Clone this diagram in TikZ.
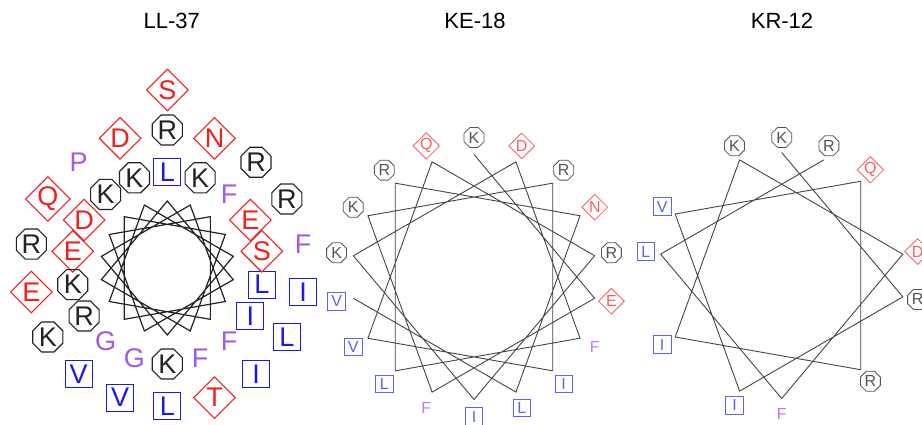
\documentclass[tikz,border=0pt]{standalone}
\usepackage{fontspec}
\setmainfont{Liberation Sans}
\usetikzlibrary{shapes.geometric}
\definecolor{bred}{RGB}{245,30,30}
\definecolor{bblue}{RGB}{25,25,235}
\definecolor{bblack}{RGB}{35,35,35}
\definecolor{bpurple}{RGB}{160,90,230}
\definecolor{sred}{RGB}{250,95,95}
\definecolor{sblue}{RGB}{95,95,250}
\definecolor{sblack}{RGB}{85,85,85}
\definecolor{spurple}{RGB}{185,125,240}
\definecolor{sline}{RGB}{70,70,70}
\tikzset{
  bigpos/.style={regular polygon, regular polygon sides=8, draw=bblack, text=bblack, line width=1.1pt, minimum size=32.5pt, inner sep=0pt, font=\fontsize{27}{27}\selectfont},
  bigneg/.style={diamond, draw=bred, text=bred, line width=1.1pt, minimum width=42pt, minimum height=42pt, inner sep=0pt, font=\fontsize{27}{27}\selectfont},
  bighyd/.style={rectangle, draw=bblue, text=bblue, line width=1.1pt, minimum size=27pt, inner sep=0pt, font=\fontsize{27}{27}\selectfont},
  bigaro/.style={text=bpurple, inner sep=0pt, font=\fontsize{27}{27}\selectfont},
  smlpos/.style={regular polygon, regular polygon sides=8, draw=sblack, text=sblack, line width=0.8pt, minimum size=21.6pt, inner sep=0pt, font=\fontsize{16}{16}\selectfont},
  smlneg/.style={diamond, draw=sred, text=sred, line width=0.8pt, minimum width=26pt, minimum height=26pt, inner sep=0pt, font=\fontsize{16}{16}\selectfont},
  smlhyd/.style={rectangle, draw=sblue, text=sblue, line width=0.8pt, minimum size=17.5pt, inner sep=0pt, font=\fontsize{16}{16}\selectfont},
  smlaro/.style={text=spurple, inner sep=0pt, font=\fontsize{16}{16}\selectfont},
  bigwheel/.style={draw=bblack, line width=1.2pt, line join=miter},
  smlwheel/.style={draw=sline, line width=0.9pt, line join=miter},
  title/.style={font=\fontsize{22}{22}\selectfont, text=black}
}
\begin{document}
\begin{tikzpicture}[x=1pt,y=1pt]
\useasboundingbox (0,0) rectangle (922,424);
\clip (0,0) rectangle (922,424);
\fill[white] (0,0) rectangle (922,424);

% centres
\coordinate (c1) at (167.3,156);
\coordinate (c2) at (474,147);
\coordinate (c3) at (781.7,148.5);

% titles
\node[title] (t1) at (171.7,402.7) {LL-37};
\node[title] (t2) at (475,402.7) {KE-18};
\node[title] (t3) at (782,402.7) {KR-12};

% ---------- LL-37 ----------
\foreach \i in {1,...,37}{
  \pgfmathsetmacro\ang{90-100*(\i-1)}
  \path (c1) ++(\ang:67) coordinate (llv\i);
}
\draw[bigwheel] (llv1) \foreach \i in {2,...,37}{ -- (llv\i)};
\foreach \res/\typ [count=\i] in {L/hyd,L/hyd,G/aro,D/neg,F/aro,F/aro,R/pos,K/pos,S/neg,K/pos,E/neg,K/pos,I/hyd,G/aro,K/pos,E/neg,F/aro,K/pos,R/pos,I/hyd,V/hyd,Q/neg,R/pos,I/hyd,K/pos,D/neg,F/aro,L/hyd,R/pos,N/neg,L/hyd,V/hyd,P/aro,R/pos,T/neg,E/neg,S/neg}{
  \pgfmathsetmacro\ang{90-100*(\i-1)}
  \ifnum\i<19 \def\rr{96}\else\ifnum\i<37 \def\rr{138}\else\def\rr{178}\fi\fi
  \path (c1) ++(\ang:\rr) node[big\typ] (ll\i) {\res};
}

% ---------- KE-18 ----------
\foreach \i in {1,...,18}{
  \pgfmathsetmacro\ang{90-100*(\i-1)}
  \path (c2) ++(\ang:122.5) coordinate (kev\i);
}
\draw[smlwheel] (kev1) \foreach \i in {2,...,18}{ -- (kev\i)};
\foreach \res/\typ [count=\i] in {K/pos,E/neg,F/aro,K/pos,R/pos,I/hyd,V/hyd,Q/neg,R/pos,I/hyd,K/pos,D/neg,F/aro,L/hyd,R/pos,N/neg,L/hyd,V/hyd}{
  \pgfmathsetmacro\ang{90-100*(\i-1)}
  \path (c2) ++(\ang:139.5) node[sml\typ] (ke\i) {\res};
}

% ---------- KR-12 ----------
\foreach \i in {1,...,12}{
  \pgfmathsetmacro\ang{90-100*(\i-1)}
  \path (c3) ++(\ang:123) coordinate (krv\i);
}
\draw[smlwheel] (krv1) \foreach \i in {2,...,12}{ -- (krv\i)};
\foreach \res/\typ [count=\i] in {K/pos,R/pos,I/hyd,V/hyd,Q/neg,R/pos,I/hyd,K/pos,D/neg,F/aro,L/hyd,R/pos}{
  \pgfmathsetmacro\ang{90-100*(\i-1)}
  \path (c3) ++(\ang:138) node[sml\typ] (kr\i) {\res};
}
\end{tikzpicture}
\end{document}
